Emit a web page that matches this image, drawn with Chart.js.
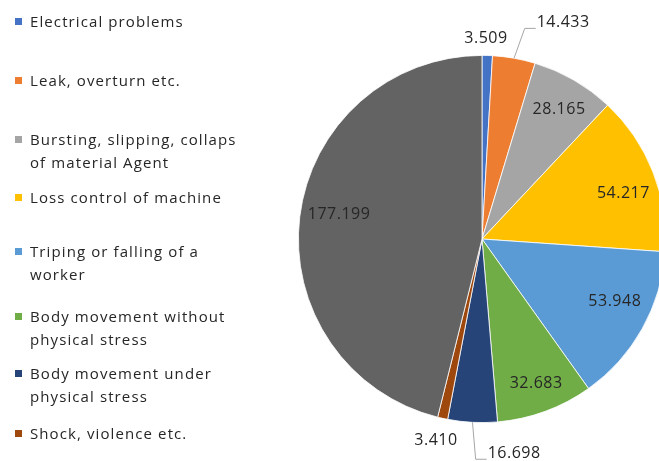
<!DOCTYPE html>
<html>
<head>
<meta charset="utf-8">
<script src="https://cdn.jsdelivr.net/npm/chart.js@4/dist/chart.umd.min.js"></script>
<style>
  html, body { margin: 0; padding: 0; background: #ffffff; }
  body { width: 659px; height: 461px; overflow: hidden; position: relative; font-family: "Open Sans", sans-serif; }
  #pieBox { position: absolute; left: 0; top: 0; width: 680px; height: 461px; }
  #legend { position: absolute; left: 0; top: 0; width: 260px; height: 461px; z-index: 2; }
  .item { position: absolute; left: 15px; font-size: 15px; letter-spacing: 1.1px; color: #262626; line-height: 23px; }
  .item .sw { position: absolute; left: 0; top: 8px; width: 7px; height: 7px; }
  .item .tx { position: absolute; left: 15px; top: 0; white-space: nowrap; }
</style>
</head>
<body>
<div id="pieBox"><canvas id="pie" width="680" height="461"></canvas></div>
<div id="legend"></div>
<script>
// Accident causes, each given as its legend lines
const categories = [
  ['Electrical problems'],
  ['Leak, overturn etc.'],
  ['Bursting, slipping, collaps', 'of material Agent'],
  ['Loss control of machine'],
  ['Triping or falling of a', 'worker'],
  ['Body movement without', 'physical stress'],
  ['Body movement under', 'physical stress'],
  ['Shock, violence etc.'],
  ['Other']
];
const values = [3.509, 14.433, 28.165, 54.217, 53.948, 32.683, 16.698, 3.410, 177.199];
const sliceColors = ['#4472C4', '#ED7D31', '#A5A5A5', '#FFC000', '#5B9BD5', '#70AD47', '#264478', '#9E480E', '#636363'];

// Vertical centre of each legend entry's first line
const legendRows = [21, 80, 139, 197.5, 251, 316, 373, 433, 492];

// Where each value label sits: degrees away from the slice's middle angle and
// distance from the centre as a share of the radius; leader marks a connector line
const labelSpots = [
  { deg: -0.5, r: 1.095 },
  { deg: 10.5, r: 1.26, leader: true },
  { deg: 0.8, r: 0.82 },
  { deg: 3.4, r: 0.81 },
  { deg: -4.0, r: 0.80 },
  { deg: -0.4, r: 0.84 },
  { deg: -11.5, r: 1.18, leader: true },
  { deg: 0.5, r: 1.123 },
  { deg: 2.9, r: 0.79 }
];

// Legend
const legend = document.getElementById('legend');
categories.forEach((lines, i) => {
  const it = document.createElement('div');
  it.className = 'item';
  it.style.top = (legendRows[i] - 11.5) + 'px';
  const sw = document.createElement('div');
  sw.className = 'sw';
  sw.style.background = sliceColors[i];
  const tx = document.createElement('div');
  tx.className = 'tx';
  tx.innerHTML = lines.map(s => s.replace(/&/g, '&amp;')).join('<br>');
  it.appendChild(sw);
  it.appendChild(tx);
  legend.appendChild(it);
});

const valueLabels = {
  id: 'valueLabels',
  afterDatasetsDraw(chart) {
    const ctx = chart.ctx;
    const meta = chart.getDatasetMeta(0);
    ctx.save();
    ctx.font = '16px "Open Sans", sans-serif';
    if ('letterSpacing' in ctx) ctx.letterSpacing = '0.5px';
    ctx.fillStyle = '#262626';
    ctx.textAlign = 'center';
    ctx.textBaseline = 'middle';
    meta.data.forEach((arc, i) => {
      const p = arc.getProps(['x', 'y', 'startAngle', 'endAngle', 'outerRadius'], true);
      const spot = labelSpots[i];
      const mid = (p.startAngle + p.endAngle) / 2;
      const a = mid + spot.deg * Math.PI / 180;
      const lx = p.x + Math.cos(a) * p.outerRadius * spot.r;
      const ly = p.y + Math.sin(a) * p.outerRadius * spot.r;
      const text = chart.data.datasets[0].data[i].toFixed(3);
      if (spot.leader) {
        const w = ctx.measureText(text).width;
        const left = lx - w / 2;
        const base = ly + 6;
        const ex = p.x + Math.cos(mid) * p.outerRadius;
        const ey = p.y + Math.sin(mid) * p.outerRadius;
        ctx.save();
        ctx.strokeStyle = '#a6a6a6';
        ctx.lineWidth = 1;
        ctx.beginPath();
        ctx.moveTo(ex, ey);
        ctx.lineTo(left - 12, base);
        ctx.lineTo(left - 1, base);
        ctx.stroke();
        ctx.restore();
      }
      ctx.fillText(text, lx, ly);
    });
    ctx.restore();
  }
};

new Chart(document.getElementById('pie'), {
  type: 'pie',
  data: {
    labels: categories,
    datasets: [{
      data: values,
      backgroundColor: sliceColors,
      borderColor: '#ffffff',
      borderWidth: 0.8,
      hoverOffset: 0,
      offset: 0
    }]
  },
  options: {
    responsive: false,
    animation: false,
    // places a 368px square plot area centred at (482, 239)
    layout: { padding: { left: 298, top: 55, right: 14, bottom: 38 } },
    plugins: {
      legend: { display: false },
      tooltip: { enabled: false }
    }
  },
  plugins: [valueLabels]
});
</script>
</body>
</html>
